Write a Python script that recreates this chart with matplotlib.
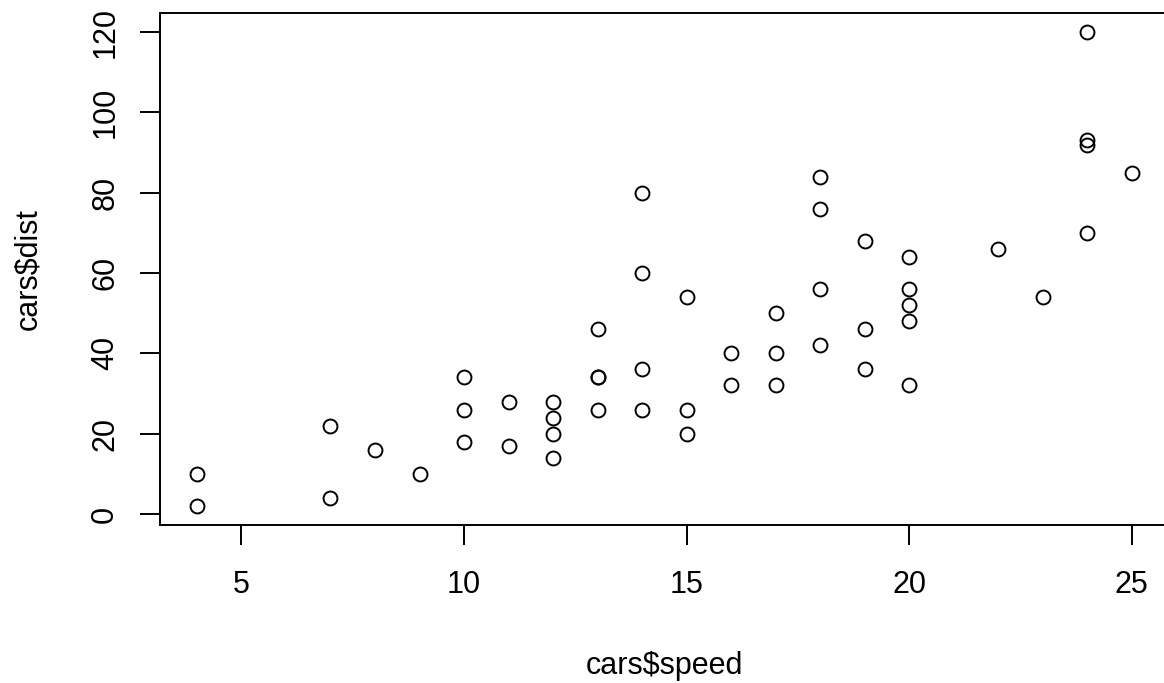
import matplotlib
matplotlib.use("Agg")
import matplotlib.pyplot as plt

plt.rcParams['font.family'] = ['Liberation Sans', 'DejaVu Sans']

# cars dataset (speed, dist)
speed = [4, 4, 7, 7, 8, 9, 10, 10, 10, 11, 11, 12, 12, 12, 12, 13, 13, 13, 13,
         14, 14, 14, 14, 15, 15, 15, 16, 16, 17, 17, 17, 18, 18, 18, 18, 19, 19,
         19, 20, 20, 20, 20, 20, 22, 23, 24, 24, 24, 24, 25]
dist = [2, 10, 4, 22, 16, 10, 18, 26, 34, 17, 28, 14, 20, 24, 28, 26, 34, 34, 46,
        26, 36, 60, 80, 20, 26, 54, 32, 40, 32, 40, 50, 42, 56, 76, 84, 36, 46,
        68, 32, 48, 52, 56, 64, 66, 54, 70, 92, 93, 120, 85]
xticks = [5, 10, 15, 20, 25]
yticks = [0, 20, 40, 60, 80, 100, 120]

fig = plt.figure(figsize=(11.64, 6.83), dpi=100)
ax = fig.add_axes([0.1371, 0.2315, 0.8672, 0.7493])

ax.plot(speed, dist, 'o', mfc='none', mec='black', ms=10, mew=1.4)

# R style: 4% extension of data range
xr = max(speed) - min(speed)
yr = max(dist) - min(dist)
ax.set_xlim(min(speed) - 0.04 * xr, max(speed) + 0.04 * xr)
ax.set_ylim(min(dist) - 0.04 * yr, max(dist) + 0.04 * yr)

ax.set_xticks(xticks)
ax.set_yticks(yticks)
ax.set_yticklabels([str(v) for v in yticks], rotation=90, va='center')
ax.tick_params(length=14.4, width=1.4, labelsize=22)
ax.tick_params(axis='x', pad=18)
ax.tick_params(axis='y', pad=14)
for s in ax.spines.values():
    s.set_linewidth(1.4)

ax.set_xlabel('cars$speed', fontsize=22, labelpad=37)
ax.set_ylabel('cars$dist', fontsize=22, labelpad=34)

fig.savefig('out.png', dpi=100)
